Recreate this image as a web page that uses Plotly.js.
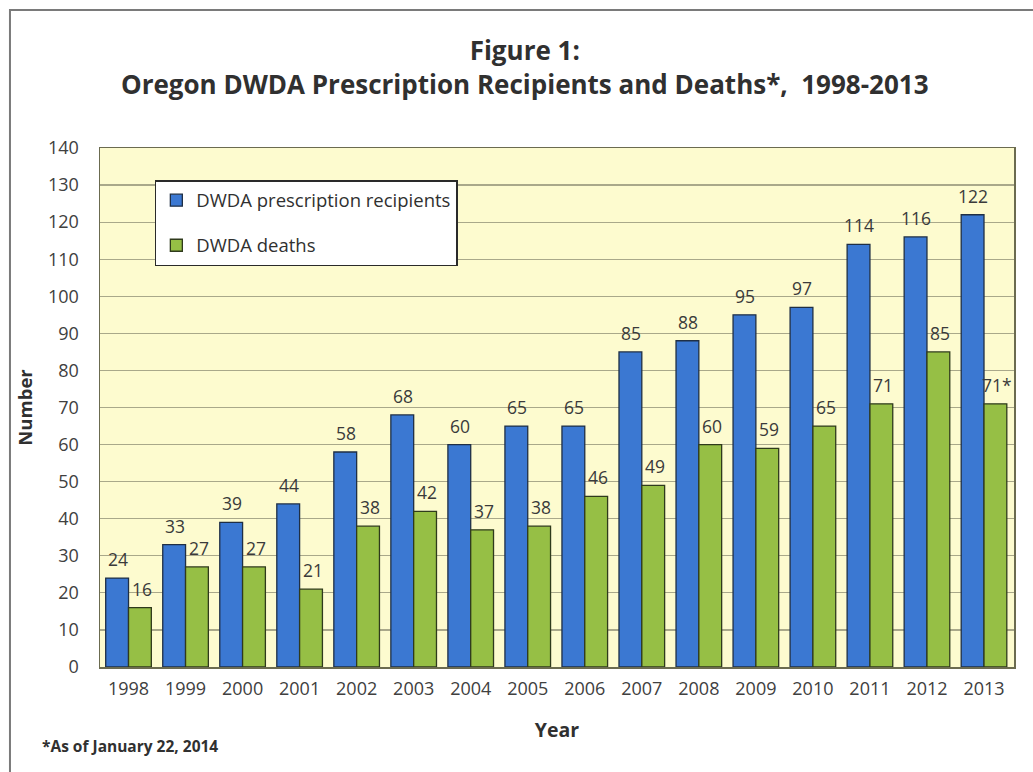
<!DOCTYPE html>
<html><head><meta charset="utf-8">
<script src="https://cdn.plot.ly/plotly-3.0.1.min.js"></script>
<style>body{margin:0;background:#fff}#c{width:1033px;height:772px}</style>
</head><body><div id="c"></div>
<script>
var years = ['1998','1999','2000','2001','2002','2003','2004','2005','2006','2007','2008','2009','2010','2011','2012','2013'];
var recipients = [24,33,39,44,58,68,60,65,65,85,88,95,97,114,116,122];
var deaths = [16,27,27,21,38,42,37,38,46,49,60,59,65,71,85,71];
var deathLabels = ['16','27','27','21','38','42','37','38','46','49','60','59','65','71','85','71*'];
var recipientLabels = recipients.map(String);

var FONT = '"Open Sans", sans-serif';
var traces = [
  {type:'bar', x:years, y:recipients, name:'DWDA prescription recipients', legendgroup:'a',
   marker:{color:'#3b78d2', line:{color:'#1f2f45', width:1.3}}, hoverinfo:'y'},
  {type:'bar', x:years, y:deaths, name:'DWDA deaths', legendgroup:'b',
   marker:{color:'#96bf45', line:{color:'#2f3a1c', width:1.3}}, hoverinfo:'y'}
];

var ann = [];
years.forEach(function(yr,i){
  ann.push({x:i, y:recipients[i], xref:'x', yref:'y', text:recipientLabels[i], showarrow:false,
    xshift:-11, yshift:5, yanchor:'bottom', font:{family:FONT, size:17.5, color:'#3a3a3a'}});
  ann.push({x:i, y:deaths[i], xref:'x', yref:'y', text:deathLabels[i], showarrow:false,
    xshift:13, yshift:5, yanchor:'bottom', font:{family:FONT, size:17.5, color:'#3a3a3a'}});
});
ann.push({xref:'paper', yref:'paper', x:-0.066, y:-0.153, xanchor:'left', yanchor:'middle',
  text:'<b>*As of January 22, 2014</b>', showarrow:false, font:{family:FONT, size:15.5, color:'#303030'}});

var layout = {
  width:1033, height:772,
  margin:{l:100, r:19, t:148, b:105},
  paper_bgcolor:'#ffffff', plot_bgcolor:'#fdfbcf',
  font:{family:FONT, color:'#404040'},
  title:{text:'<b>Figure 1:</b><br><b>Oregon DWDA Prescription Recipients and Deaths*,  1998-2013</b>',
    x:0.508, xanchor:'center', y:0.922, yanchor:'middle', font:{family:FONT, size:26, color:'#303030'}},
  barmode:'group', bargap:0.2, bargroupgap:0,
  xaxis:{type:'category', showgrid:false, ticks:'', tickfont:{size:18, color:'#404040'},
    showline:true, linecolor:'#6b6b50', linewidth:1.5, mirror:true, ticklabelstandoff:5,
    title:{text:'<b>Year</b>', font:{size:19.5, color:'#303030'}, standoff:24}},
  yaxis:{range:[0,140], dtick:10, showgrid:true, gridcolor:'#a9a88a', gridwidth:1.2,
    tickfont:{size:18, color:'#404040'}, showline:true, linecolor:'#6b6b50', linewidth:1.5, mirror:true,
    zeroline:false, ticks:'', ticklabelstandoff:16,
    title:{text:'<b>Number</b>', font:{size:18.5, color:'#303030'}, standoff:10}},
  legend:{x:0.06, y:0.938, xanchor:'left', yanchor:'top', bgcolor:'#ffffff', bordercolor:'#2a2a2a', borderwidth:1.5,
    font:{size:18.5, color:'#303030'}, tracegroupgap:18, itemwidth:30},
  annotations:ann,
  shapes:[{type:'rect', xref:'paper', yref:'paper', x0:-0.0985, x1:1.08, y0:-0.4, y1:1.266,
    line:{color:'#7a7a7a', width:2}, fillcolor:'rgba(0,0,0,0)', layer:'below'}]
};
Plotly.newPlot('c', traces, layout, {displayModeBar:false, staticPlot:true});
</script></body></html>
